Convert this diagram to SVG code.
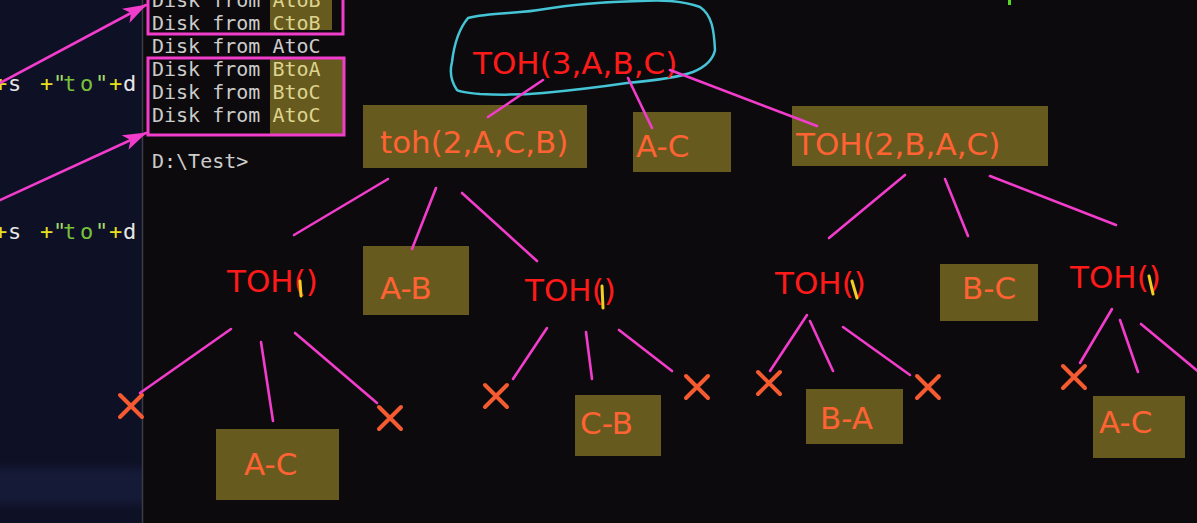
<svg xmlns="http://www.w3.org/2000/svg" width="1197" height="523" viewBox="0 0 1197 523">
<style>
.term{font-family:"DejaVu Sans Mono","Liberation Mono",monospace;font-size:20px;fill:#cccccc}
.hl{fill:#ddd48e}
.code{font-family:"DejaVu Sans Mono","Liberation Mono",monospace;font-size:22px}
.ann{font-family:"DejaVu Sans","Verdana",sans-serif;font-size:31px}
.red{fill:#ff1a1a}
.org{fill:#ff6333}
.box{fill:#675a1f}
.link{stroke:#f23ccb;stroke-width:2.6;fill:none;stroke-linecap:round}
.x{stroke:#f55a30;stroke-width:4;stroke-linecap:round}
.ym{stroke:#f2cf22;stroke-width:3;stroke-linecap:round;fill:none}
.frame{fill:none;stroke:#f23ccb;stroke-width:3}
</style>
<defs>
<linearGradient id="band" x1="0" y1="0" x2="0" y2="1">
<stop offset="0" stop-color="#0e1025"/>
<stop offset="0.25" stop-color="#151a36"/>
<stop offset="0.75" stop-color="#151a36"/>
<stop offset="1" stop-color="#0e1025"/>
</linearGradient>
<marker id="arr" viewBox="0 0 24 16" refX="23" refY="8" markerWidth="24" markerHeight="16" orient="auto" markerUnits="userSpaceOnUse">
<path d="M0,0 L24,8 L0,16 L6,8 z" fill="#f23ccb"/>
</marker>
</defs>

<!-- backgrounds -->
<rect x="0" y="0" width="1197" height="523" fill="#0c0a0d"/>
<rect x="0" y="0" width="142" height="523" fill="#0e1025"/>
<rect x="0" y="462" width="142" height="48" fill="url(#band)"/>
<line x1="142.5" y1="0" x2="142.5" y2="523" stroke="#3c3c48" stroke-width="1.5"/>

<!-- left code text -->
<g id="code1" class="code">
<text y="91" x="-6 8 40 53 63 80 95 109 123"><tspan fill="#e8e020">+</tspan><tspan fill="#e6e6e6">s</tspan><tspan fill="#e8e020">+</tspan><tspan fill="#a6d86a">"</tspan><tspan fill="#78c23a">to</tspan><tspan fill="#a6d86a">"</tspan><tspan fill="#e8e020">+</tspan><tspan fill="#e6e6e6">d</tspan></text>
</g>
<g id="code2" class="code">
<text y="239" x="-6 8 40 53 63 80 95 109 123"><tspan fill="#e8e020">+</tspan><tspan fill="#e6e6e6">s</tspan><tspan fill="#e8e020">+</tspan><tspan fill="#a6d86a">"</tspan><tspan fill="#78c23a">to</tspan><tspan fill="#a6d86a">"</tspan><tspan fill="#e8e020">+</tspan><tspan fill="#e6e6e6">d</tspan></text>
</g>

<!-- terminal output -->
<g id="terminal">
<rect class="box" x="270" y="0" width="62" height="30"/>
<rect class="box" x="270" y="57" width="73" height="79"/>
<text class="term" x="152" y="7">Disk from <tspan class="hl">AtoB</tspan></text>
<text class="term" x="152" y="30">Disk from <tspan class="hl">CtoB</tspan></text>
<text class="term" x="152" y="53">Disk from AtoC</text>
<text class="term" x="152" y="76">Disk from <tspan class="hl">BtoA</tspan></text>
<text class="term" x="152" y="99">Disk from <tspan class="hl">BtoC</tspan></text>
<text class="term" x="152" y="122">Disk from <tspan class="hl">AtoC</tspan></text>
<text class="term" x="152" y="168">D:\Test&gt;</text>
<rect class="frame" x="148" y="-5" width="195" height="39"/>
<rect class="frame" x="148" y="58" width="196" height="77"/>
<line x1="1009.5" y1="0" x2="1009.5" y2="5" stroke="#55d822" stroke-width="3"/>
</g>

<!-- nodes -->
<g id="root">
<path d="M457,90 C450,80 450,70 452,62 C454,45 458,30 468,18 C490,12 520,14 545,9 C575,4 600,2 640,1 C660,0 680,0 700,7 C712,15 714,30 715,50 C713,60 705,67 693,72 C680,77 660,80 627,83 C600,87 575,90 543,93 C520,95 500,95 480,94 C468,93 460,92 457,90 Z" fill="none" stroke="#45c4d6" stroke-width="2.5"/>
<text class="ann red" x="473" y="74">TOH(3,A,B,C)</text>
</g>
<g id="n_toh2ACB">
<rect class="box" x="363" y="105" width="224" height="63"/>
<text class="ann org" x="380" y="153">toh(2,A,C,B)</text>
</g>
<g id="n_AC_top">
<rect class="box" x="633" y="112" width="98" height="60"/>
<text class="ann org" x="636" y="157">A-C</text>
</g>
<g id="n_toh2BAC">
<rect class="box" x="792" y="106" width="256" height="60"/>
<text class="ann org" x="796" y="155">TOH(2,B,A,C)</text>
</g>
<g id="n_toh_l">
<text class="ann red" x="227" y="292">TOH()</text>
<path class="ym" d="M300,281 L301,296"/>
</g>
<g id="n_AB">
<rect class="box" x="363" y="246" width="106" height="69"/>
<text class="ann org" x="380" y="299">A-B</text>
</g>
<g id="n_toh_m">
<text class="ann red" x="525" y="301">TOH()</text>
<path class="ym" d="M602,286 L603,308"/>
</g>
<g id="n_toh_r1">
<text class="ann red" x="775" y="294">TOH()</text>
<path class="ym" d="M852,281 L857,298"/>
</g>
<g id="n_BC">
<rect class="box" x="940" y="264" width="98" height="57"/>
<text class="ann org" x="962" y="299">B-C</text>
</g>
<g id="n_toh_r2">
<text class="ann red" x="1070" y="288">TOH()</text>
<path class="ym" d="M1149,276 L1153,294"/>
</g>
<g id="n_AC_l">
<rect class="box" x="216" y="429" width="123" height="71"/>
<text class="ann org" x="244" y="475">A-C</text>
</g>
<g id="n_CB">
<rect class="box" x="575" y="395" width="86" height="61"/>
<text class="ann org" x="580" y="434">C-B</text>
</g>
<g id="n_BA">
<rect class="box" x="806" y="389" width="97" height="55"/>
<text class="ann org" x="820" y="429">B-A</text>
</g>
<g id="n_AC_r">
<rect class="box" x="1093" y="396" width="92" height="62"/>
<text class="ann org" x="1099" y="433">A-C</text>
</g>
<g id="crosses">
<path class="x" d="M120,395 L142,417 M142,395 L120,417"/>
<path class="x" d="M379,407 L401,429 M401,407 L379,429"/>
<path class="x" d="M485,385 L507,407 M507,385 L485,407"/>
<path class="x" d="M686,376 L708,398 M708,376 L686,398"/>
<path class="x" d="M758,372 L780,394 M780,372 L758,394"/>
<path class="x" d="M917,376 L939,398 M939,376 L917,398"/>
<path class="x" d="M1063,366 L1085,388 M1085,366 L1063,388"/>
</g>

<!-- connectors -->
<g id="connectors">
<line class="link" x1="-2" y1="84" x2="146" y2="5" marker-end="url(#arr)"/>
<line class="link" x1="-2" y1="201" x2="146" y2="133" marker-end="url(#arr)"/>
<line class="link" x1="543" y1="80" x2="488" y2="117"/>
<line class="link" x1="628" y1="78" x2="652" y2="128"/>
<line class="link" x1="670" y1="70" x2="817" y2="126"/>
<line class="link" x1="388" y1="179" x2="294" y2="235"/>
<line class="link" x1="436" y1="188" x2="412" y2="249"/>
<line class="link" x1="462" y1="193" x2="537" y2="261"/>
<line class="link" x1="905" y1="175" x2="829" y2="238"/>
<line class="link" x1="945" y1="179" x2="968" y2="236"/>
<line class="link" x1="990" y1="176" x2="1116" y2="225"/>
<line class="link" x1="231" y1="329" x2="140" y2="393"/>
<line class="link" x1="261" y1="342" x2="273" y2="421"/>
<line class="link" x1="295" y1="333" x2="377" y2="403"/>
<line class="link" x1="547" y1="328" x2="513" y2="379"/>
<line class="link" x1="586" y1="332" x2="592" y2="379"/>
<line class="link" x1="619" y1="330" x2="672" y2="371"/>
<line class="link" x1="807" y1="315" x2="770" y2="371"/>
<line class="link" x1="810" y1="321" x2="833" y2="371"/>
<line class="link" x1="843" y1="327" x2="910" y2="375"/>
<line class="link" x1="1112" y1="309" x2="1080" y2="363"/>
<line class="link" x1="1120" y1="320" x2="1138" y2="372"/>
<line class="link" x1="1141" y1="324" x2="1200" y2="373"/>
</g>
</svg>
